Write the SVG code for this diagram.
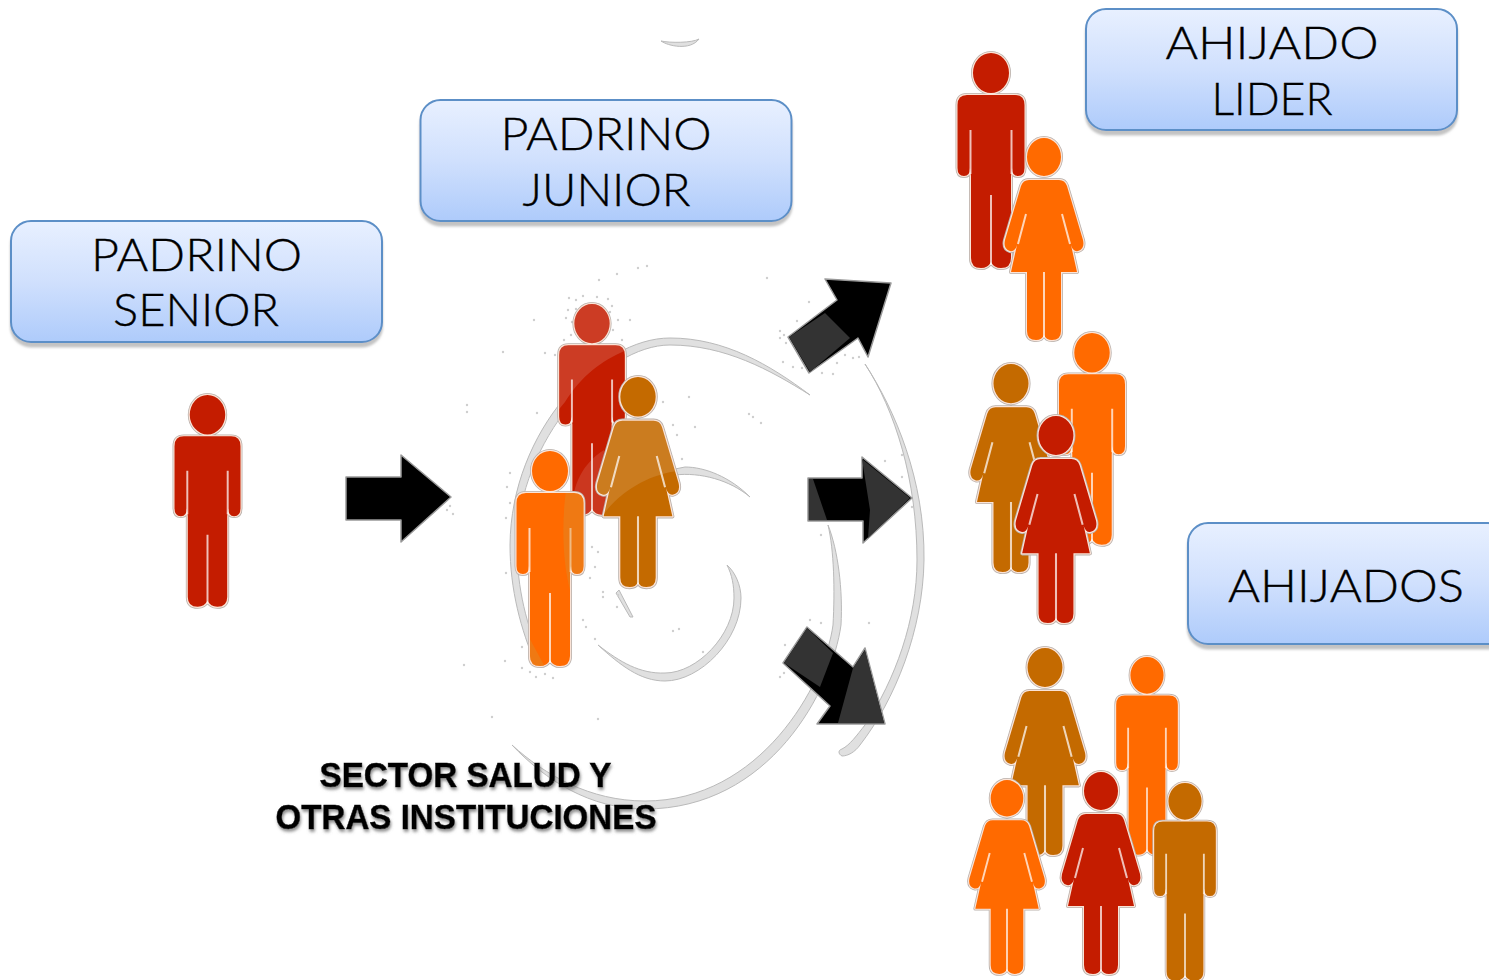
<svg xmlns="http://www.w3.org/2000/svg" xmlns:xlink="http://www.w3.org/1999/xlink" width="1489" height="980" viewBox="0 0 1489 980">
<style>
.box{fill:url(#boxg);stroke:#5c8fc7;stroke-width:2;filter:url(#sh)}
.lbl{font-family:"Lato","Liberation Sans",sans-serif;font-weight:300;font-size:46px;fill:#000;stroke:#000;stroke-width:.4;text-anchor:middle}
.bold{font-family:"Liberation Sans",Arial,sans-serif;font-weight:700;font-size:35px;fill:#000;stroke:#000;stroke-width:.5;text-anchor:middle;filter:url(#tsh)}
.sw{fill:#e0e0e0;stroke:#bababa;stroke-width:1}
.ar{fill:#000;stroke:#999;stroke-width:1.5;stroke-linejoin:round}
.dk{fill:#333}
.h1{fill:#fff;stroke:#b9b1ac;stroke-width:4;stroke-linejoin:round}
.h2{fill:#fff;stroke:#fbe3d6;stroke-width:2.4;stroke-linejoin:round}
.slit{fill:none;stroke:#fff;stroke-opacity:.72;stroke-width:2}
.red{fill:#c41c00}.org{fill:#ff6a00}.brn{fill:#c46a00}
</style>
<defs>
<linearGradient id="boxg" x1="0" y1="0" x2="0" y2="1"><stop offset="0" stop-color="#e8f0ff"/><stop offset=".5" stop-color="#d0e0fd"/><stop offset="1" stop-color="#aecbfb"/></linearGradient>
<filter id="sh" x="-5%" y="-10%" width="110%" height="125%"><feDropShadow dx="0" dy="4.500" stdDeviation="1" flood-color="#bdbdbd" flood-opacity=".9"/></filter>
<filter id="tsh" x="-5%" y="-20%" width="110%" height="150%"><feDropShadow dx="1" dy="2.500" stdDeviation="1.600" flood-color="#777" flood-opacity=".85"/></filter>
<path id="manP" d="M-24,43H24Q33.500,43 33.500,53V116Q33.500,124 27,124Q21,124 21,116L20,124V206Q20,216 10,216Q3,216 0,210Q-3,216 -10,216Q-20,216 -20,206V124L-21,116Q-21,124 -27,124Q-33.500,124 -33.500,116V53Q-33.500,43 -24,43ZM-18,21a18,20 0 1,0 36,0a18,20 0 1,0 -36,0Z"/>
<path id="womP" d="M-15,42H15Q21,42 23,48L39,102Q41,111 34,113Q29,114 27,107L33,134H17V193Q17,202 8,202Q2,202 0,197Q-2,202 -8,202Q-17,202 -17,193V134H-33L-27,107Q-29,114 -34,113Q-41,111 -39,102L-23,48Q-21,42 -15,42ZM-17,19a17,19 0 1,0 34,0a17,19 0 1,0 -34,0Z"/>
<g id="man"><use href="#manP" class="h1"/><use href="#manP" class="h2"/><use href="#manP"/><path class="slit" d="M-20.500,78V122M20.500,78V122M0,143V213"/></g>
<g id="wom"><use href="#womP" class="h1"/><use href="#womP" class="h2"/><use href="#womP"/><path class="slit" d="M18,76L26,106M-18,76L-26,106M0,134V199"/></g>
<clipPath id="cRed"><use href="#manP" transform="translate(592,303) scale(.98)"/></clipPath>
<clipPath id="cWom"><use href="#womP" transform="translate(638,377) scale(1.04)"/></clipPath>
<clipPath id="cOrg"><use href="#manP" transform="translate(550,450)"/></clipPath>
</defs>
<rect width="1489" height="980" fill="#fff"/>
<g id="swirl">
<path class="sw" d="M661,41C668,46 690,51 699,39C692,43 670,43 661,41Z"/>
<path class="sw" d="M810,395C770,365 725,338 670,338C600,338 511,430 510,545C510,590 521,630 536,665L541,660C527,625 517,590 517,545C518,440 605,345 670,345C725,345 770,370 810,395Z"/>
<path class="sw" d="M750,497C730,477 705,467 685,467L675,469V475C700,472 730,480 750,497Z"/>
<path class="sw" d="M619,590L633,617L630,617L616,593Z"/>
<path class="sw" d="M598,645C620,665 640,681 665,681C700,681 741,640 741,598C741,585 735,572 727,565C732,575 734,585 734,598C734,635 697,673 665,673C640,674 620,662 598,645Z"/>
<path class="sw" d="M865,364C895,410 925,480 924,560C923,630 895,700 860,745C855,752 848,756 842,756C838,754 838,750 842,749C850,745 857,735 865,725C895,680 917,620 917,560C917,480 895,410 865,364Z"/>
<path class="sw" d="M828,525C838,550 843,590 841,625C832,690 770,809 645,809C590,809 545,780 512,745C545,775 590,801 645,801C760,801 825,685 833,625C835,590 834,550 828,525Z"/>
<path fill="none" stroke="#cfcfcf" stroke-width="2.400" stroke-linecap="round" d="M599,280h0M617,274h0M638,268h0M647,266h0M767,278h0M534,320h0M503,352h0M809,302h0M797,321h0M689,397h0M695,427h0M749,414h0M753,417h0M761,423h0M780,331h0M784,335h0M780,338h0M786,343h0M783,362h0M793,367h0M802,368h0M822,373h0M833,374h0M837,363h0M845,355h0M853,358h0M859,357h0M885,461h0M902,455h0M902,477h0M912,507h0M821,535h0M673,631h0M679,629h0M703,652h0M869,623h0M821,623h0M810,620h0M785,645h0M780,677h0M784,673h0M583,620h0M586,627h0M595,639h0M603,592h0M603,597h0M522,668h0M530,672h0M536,677h0M545,674h0M553,678h0M505,661h0M522,647h0M598,719h0M492,717h0M464,665h0M467,405h0M467,412h0M663,402h0M673,425h0M677,435h0M682,459h0M592,547h0M598,552h0M595,567h0M590,578h0M618,595h0M617,607h0M537,413h0M545,353h0M555,355h0M510,473h0M507,487h0M510,503h0M506,518h0M506,573h0M447,510h0M453,514h0M450,506h0M569,298h0M576,300h0M583,296h0M597,297h0M608,299h0M612,306h0M568,310h0M576,309h0M610,312h0M566,318h0M572,322h0M618,320h0M613,330h0M622,340h0M571,335h0M564,340h0M630,320h0"/>
</g>
<g id="connectors">
<polygon class="ar" points="346,477 401,477 401,455 451,497 401,542 401,520 346,520"/>
<g id="arrow-up"><polygon class="ar" points="825,279 891,283 868,357 858,338 809,373 788,337 837,300"/><polygon class="dk" points="789,337 825,313 850,338 810,372"/></g>
<g id="arrow-mid"><polygon class="ar" points="808,478 862,478 862,457 912,498 863,543 863,521 808,521"/><polygon class="dk" points="862,459 910,498 868,538 870,510"/><polygon class="dk" points="809,479 813,479 827,520 809,520"/></g>
<g id="arrow-down"><polygon class="ar" points="807,627 853,667 865,648 885,724 817,724 830,706 783,663"/><polygon class="dk" points="807,628 833,653 820,687 784,663"/><polygon class="dk" points="865,650 884,723 838,723 853,668"/></g>
</g>
<g id="padrino-senior"><rect class="box" x="11" y="221" width="371" height="121" rx="20"/>
<text class="lbl" x="196.500" y="271" textLength="211" lengthAdjust="spacingAndGlyphs">PADRINO</text><text class="lbl" x="196" y="326" textLength="166" lengthAdjust="spacingAndGlyphs">SENIOR</text></g>
<g id="padrino-junior"><rect class="box" x="420.500" y="100" width="371" height="121" rx="20"/>
<text class="lbl" x="606" y="150" textLength="211" lengthAdjust="spacingAndGlyphs">PADRINO</text><text class="lbl" x="606.500" y="206" textLength="168" lengthAdjust="spacingAndGlyphs">JUNIOR</text></g>
<g id="ahijado-lider"><rect class="box" x="1086" y="9" width="371" height="121" rx="20"/>
<text class="lbl" x="1272" y="59" textLength="213" lengthAdjust="spacingAndGlyphs">AHIJADO</text><text class="lbl" x="1272" y="115" textLength="121" lengthAdjust="spacingAndGlyphs">LIDER</text></g>
<g id="ahijados"><rect class="box" x="1188" y="523" width="320" height="121" rx="20"/>
<text class="lbl" x="1346" y="602" textLength="236" lengthAdjust="spacingAndGlyphs">AHIJADOS</text></g>
<g id="persona-senior"><use href="#man" class="red" transform="translate(207.500,394) scale(.985)"/></g>
<g id="personas-junior">
<use href="#man" class="red" transform="translate(592,303) scale(.98)"/>
<g clip-path="url(#cRed)"><path fill="#fff" fill-opacity=".14" d="M550,300H640V345C610,355 585,370 565,402L550,420Z"/><path fill="#fff" fill-opacity=".12" d="M572,520C570,490 580,465 604,450L620,520Z"/></g>
<use href="#wom" class="brn" transform="translate(638,377) scale(1.04)"/>
<g clip-path="url(#cWom)"><path fill="#fff" fill-opacity=".12" d="M590,420H690V470C660,470 625,485 603,515L590,515Z"/></g>
<use href="#man" class="org" transform="translate(550,450)"/>
<g clip-path="url(#cOrg)"><path fill="#d89030" fill-opacity=".4" d="M590,490H566C562,520 562,560 570,590L590,600Z"/><path fill="#d89030" fill-opacity=".4" d="M525,630L545,667H525Z"/></g>
</g>
<g id="personas-lider">
<use href="#man" class="red" transform="translate(991,52)"/>
<use href="#wom" class="org" transform="translate(1044,138)"/>
</g>
<g id="personas-ahijados-1">
<use href="#man" class="org" transform="translate(1092,332) scale(.985)"/>
<use href="#wom" class="brn" transform="translate(1011,364) scale(1.03)"/>
<use href="#wom" class="red" transform="translate(1056,416) scale(1.025)"/>
</g>
<g id="personas-ahijados-2">
<use href="#wom" class="brn" transform="translate(1045,648) scale(1.025)"/>
<use href="#man" class="org" transform="translate(1147,656) scale(.92)"/>
<use href="#wom" class="org" transform="translate(1007,780) scale(.96)"/>
<use href="#wom" class="red" transform="translate(1101,772)"/>
<use href="#man" class="brn" transform="translate(1185,782) scale(.92)"/>
</g>
<g id="sector">
<text class="bold" x="465.500" y="787" textLength="292" lengthAdjust="spacingAndGlyphs">SECTOR SALUD Y</text>
<text class="bold" x="466" y="829" textLength="381" lengthAdjust="spacingAndGlyphs">OTRAS INSTITUCIONES</text>
</g>
</svg>
